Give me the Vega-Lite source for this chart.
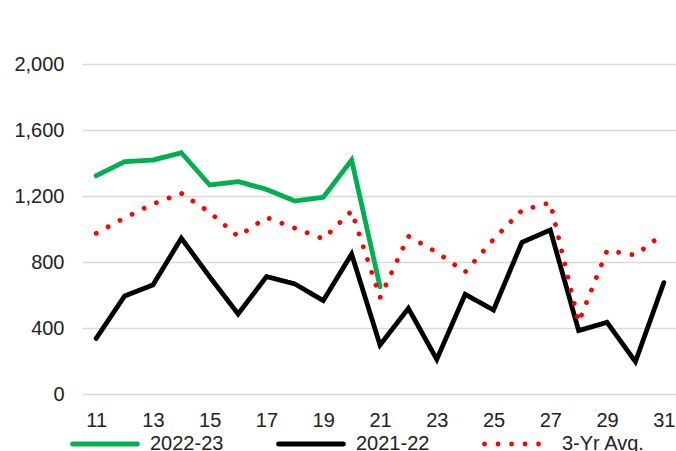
{
  "$schema": "https://vega.github.io/schema/vega-lite/v6.json",
  "autosize": "none",
  "width": 596,
  "height": 330,
  "padding": {"left": 82, "top": 64, "right": 0, "bottom": 57},
  "background": "white",
  "config": {
    "view": {"stroke": null},
    "font": "Liberation Sans",
    "axis": {"labelFont": "Liberation Sans", "labelFontSize": 20, "labelColor": "#222222"},
    "legend": {"labelFont": "Liberation Sans", "labelFontSize": 20, "labelColor": "#222222"}
  },
  "data": {
    "values": [
      {"day": 11, "series": "2022-23", "value": 1323},
      {"day": 12, "series": "2022-23", "value": 1408},
      {"day": 13, "series": "2022-23", "value": 1418},
      {"day": 14, "series": "2022-23", "value": 1462},
      {"day": 15, "series": "2022-23", "value": 1267},
      {"day": 16, "series": "2022-23", "value": 1287},
      {"day": 17, "series": "2022-23", "value": 1240},
      {"day": 18, "series": "2022-23", "value": 1170},
      {"day": 19, "series": "2022-23", "value": 1192},
      {"day": 20, "series": "2022-23", "value": 1418},
      {"day": 21, "series": "2022-23", "value": 650},
      {"day": 11, "series": "2021-22", "value": 337},
      {"day": 12, "series": "2021-22", "value": 594},
      {"day": 13, "series": "2021-22", "value": 661},
      {"day": 14, "series": "2021-22", "value": 944},
      {"day": 15, "series": "2021-22", "value": 710},
      {"day": 16, "series": "2021-22", "value": 485},
      {"day": 17, "series": "2021-22", "value": 711},
      {"day": 18, "series": "2021-22", "value": 667},
      {"day": 19, "series": "2021-22", "value": 566},
      {"day": 20, "series": "2021-22", "value": 848},
      {"day": 21, "series": "2021-22", "value": 297},
      {"day": 22, "series": "2021-22", "value": 519},
      {"day": 23, "series": "2021-22", "value": 210},
      {"day": 24, "series": "2021-22", "value": 604},
      {"day": 25, "series": "2021-22", "value": 509},
      {"day": 26, "series": "2021-22", "value": 919},
      {"day": 27, "series": "2021-22", "value": 994},
      {"day": 28, "series": "2021-22", "value": 384},
      {"day": 29, "series": "2021-22", "value": 434},
      {"day": 30, "series": "2021-22", "value": 196},
      {"day": 31, "series": "2021-22", "value": 675},
      {"day": 11, "series": "3-Yr Avg.", "value": 974},
      {"day": 12, "series": "3-Yr Avg.", "value": 1067},
      {"day": 13, "series": "3-Yr Avg.", "value": 1152},
      {"day": 14, "series": "3-Yr Avg.", "value": 1216},
      {"day": 15, "series": "3-Yr Avg.", "value": 1101},
      {"day": 16, "series": "3-Yr Avg.", "value": 955},
      {"day": 17, "series": "3-Yr Avg.", "value": 1070},
      {"day": 18, "series": "3-Yr Avg.", "value": 1006},
      {"day": 19, "series": "3-Yr Avg.", "value": 940},
      {"day": 20, "series": "3-Yr Avg.", "value": 1109},
      {"day": 21, "series": "3-Yr Avg.", "value": 584},
      {"day": 22, "series": "3-Yr Avg.", "value": 956},
      {"day": 23, "series": "3-Yr Avg.", "value": 859},
      {"day": 24, "series": "3-Yr Avg.", "value": 739},
      {"day": 25, "series": "3-Yr Avg.", "value": 937},
      {"day": 26, "series": "3-Yr Avg.", "value": 1113},
      {"day": 27, "series": "3-Yr Avg.", "value": 1160},
      {"day": 28, "series": "3-Yr Avg.", "value": 435},
      {"day": 29, "series": "3-Yr Avg.", "value": 869},
      {"day": 30, "series": "3-Yr Avg.", "value": 842},
      {"day": 31, "series": "3-Yr Avg.", "value": 974}
    ]
  },
  "mark": {"type": "line", "strokeCap": "round", "clip": false},
  "encoding": {
    "x": {
      "field": "day",
      "type": "ordinal",
      "scale": {"type": "point", "padding": 0.5},
      "axis": {
        "title": null,
        "values": [11, 13, 15, 17, 19, 21, 23, 25, 27, 29, 31],
        "labelAngle": 0,
        "ticks": false,
        "domain": false,
        "grid": false,
        "labelPadding": 16
      }
    },
    "y": {
      "field": "value",
      "type": "quantitative",
      "scale": {"domain": [0, 2000], "nice": false},
      "axis": {
        "title": null,
        "values": [0, 400, 800, 1200, 1600, 2000],
        "format": ",.0f",
        "ticks": false,
        "domain": false,
        "grid": true,
        "gridColor": "#d9d9d9",
        "gridWidth": 1.5,
        "labelPadding": 18
      }
    },
    "strokeWidth": {
      "field": "series",
      "type": "nominal",
      "scale": {
        "domain": ["2022-23", "2021-22", "3-Yr Avg."],
        "range": [4.8, 4.8, 6.8]
      },
      "legend": null
    },
    "color": {
      "field": "series",
      "type": "nominal",
      "scale": {
        "domain": ["2022-23", "2021-22", "3-Yr Avg."],
        "range": ["#00b050", "#000000", "#ff0000"]
      },
      "legend": {
        "title": null,
        "orient": "none",
        "direction": "horizontal",
        "legendX": -12,
        "legendY": 345,
        "symbolType": "stroke",
        "symbolSize": 4225,
        "symbolStrokeWidth": 5,
        "labelOffset": 10,
        "columnPadding": 44,
        "encode": {"symbols": {"update": {"strokeCap": {"value": "round"}, "strokeWidth": {"signal": "datum.value == '3-Yr Avg.' ? 8 : 5"}, "strokeDash": {"signal": "datum.value == '3-Yr Avg.' ? [0.01, 14.6] : [1, 0]"}}}}
      }
    },
    "strokeDash": {
      "field": "series",
      "type": "nominal",
      "scale": {
        "domain": ["2022-23", "2021-22", "3-Yr Avg."],
        "range": [[1, 0], [1, 0], [0.01, 13.5]]
      },
      "legend": {
        "title": null,
        "orient": "none",
        "direction": "horizontal",
        "legendX": -12,
        "legendY": 345,
        "symbolType": "stroke",
        "symbolSize": 4225,
        "symbolStrokeWidth": 5,
        "labelOffset": 10,
        "columnPadding": 44,
        "encode": {"symbols": {"update": {"strokeCap": {"value": "round"}, "strokeWidth": {"signal": "datum.value == '3-Yr Avg.' ? 8 : 5"}, "strokeDash": {"signal": "datum.value == '3-Yr Avg.' ? [0.01, 14.6] : [1, 0]"}}}}
      }
    }
  }
}
